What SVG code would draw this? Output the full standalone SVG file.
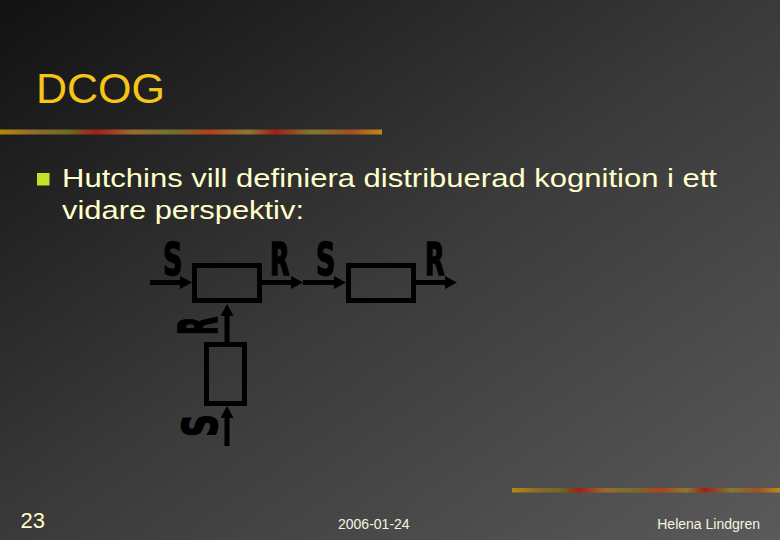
<svg xmlns="http://www.w3.org/2000/svg" width="780" height="540" viewBox="0 0 780 540">
<defs>
<linearGradient id="bg" x1="0" y1="0" x2="1" y2="1">
<stop offset="0" stop-color="#121212"/>
<stop offset="0.5" stop-color="#3a3a3a"/>
<stop offset="1" stop-color="#5a5a5a"/>
</linearGradient>
<linearGradient id="deco" x1="0" y1="0" x2="1" y2="0">
<stop offset="0" stop-color="#b8860b"/>
<stop offset="0.1" stop-color="#8a6a30"/>
<stop offset="0.18" stop-color="#6b6b20"/>
<stop offset="0.25" stop-color="#a0201a"/>
<stop offset="0.35" stop-color="#9a6a30"/>
<stop offset="0.45" stop-color="#707030"/>
<stop offset="0.55" stop-color="#b04018"/>
<stop offset="0.65" stop-color="#8a7a30"/>
<stop offset="0.72" stop-color="#a02018"/>
<stop offset="0.82" stop-color="#807a30"/>
<stop offset="0.92" stop-color="#a05020"/>
<stop offset="1" stop-color="#c08a18"/>
</linearGradient>
<marker id="ah" markerUnits="userSpaceOnUse" markerWidth="12" markerHeight="13" refX="4" refY="6.5" orient="auto">
<path d="M0,0 L12,6.5 L0,13 z" fill="#000"/>
</marker>
<style>
.t{font-family:"Liberation Sans",Arial,sans-serif;}
.box{fill:none;stroke:#000;stroke-width:5;}
.con{stroke:#000;stroke-width:5;fill:none;marker-end:url(#ah);}
.lbl{font-family:"DejaVu Sans Condensed","DejaVu Sans",sans-serif;font-weight:bold;font-size:44px;fill:#000;stroke:#000;stroke-width:1.5;}
</style>
</defs>
<rect width="780" height="540" fill="url(#bg)"/>
<rect x="0" y="129.5" width="382" height="5" fill="url(#deco)"/>
<rect x="512" y="488" width="268" height="4.5" fill="url(#deco)"/>
<text class="t" x="36" y="103" font-size="43" fill="#f5c518">DCOG</text>
<rect x="37" y="173" width="12.5" height="12.5" fill="#c4e02a"/>
<text class="t" font-size="25.5" fill="#ffffcc"><tspan x="62" y="187" textLength="655" lengthAdjust="spacingAndGlyphs">Hutchins vill definiera distribuerad kognition i ett</tspan></text>
<text class="t" font-size="25.5" fill="#ffffcc"><tspan x="62" y="219" textLength="242" lengthAdjust="spacingAndGlyphs">vidare perspektiv:</tspan></text>
<text class="t" x="20.5" y="527.5" font-size="22" fill="#ffffcc">23</text>
<text class="t" x="338" y="529" font-size="14" fill="#f5f5e0">2006-01-24</text>
<text class="t" x="760" y="529" font-size="14" fill="#f5f5e0" text-anchor="end">Helena Lindgren</text>
<g id="connectors">
<line class="con" x1="150" y1="282.5" x2="184" y2="282.5"/>
<line class="con" x1="262" y1="282.5" x2="295" y2="282.5"/>
<line class="con" x1="303" y1="282.5" x2="338" y2="282.5"/>
<line class="con" x1="416" y1="282.5" x2="449" y2="282.5"/>
<line class="con" x1="227" y1="342" x2="227" y2="312"/>
<line class="con" x1="227" y1="446" x2="227" y2="414"/>
</g>
<g id="box1"><rect class="box" x="194.5" y="265.5" width="65" height="35"/></g>
<g id="box2"><rect class="box" x="348.5" y="265.5" width="65" height="35"/></g>
<g id="box3"><rect class="box" x="206.5" y="344.5" width="38" height="59"/></g>
<g id="labels">
<text class="lbl" transform="translate(163,275) scale(0.68,1)">S</text>
<text class="lbl" transform="translate(270,275) scale(0.64,1)">R</text>
<text class="lbl" transform="translate(316,275) scale(0.68,1)">S</text>
<text class="lbl" transform="translate(425,275) scale(0.64,1)">R</text>
<text class="lbl" transform="translate(217,335) rotate(-90) scale(0.6,1.2)">R</text>
<text class="lbl" transform="translate(217,437) rotate(-90) scale(0.8,1.1)">S</text>
</g>
</svg>
